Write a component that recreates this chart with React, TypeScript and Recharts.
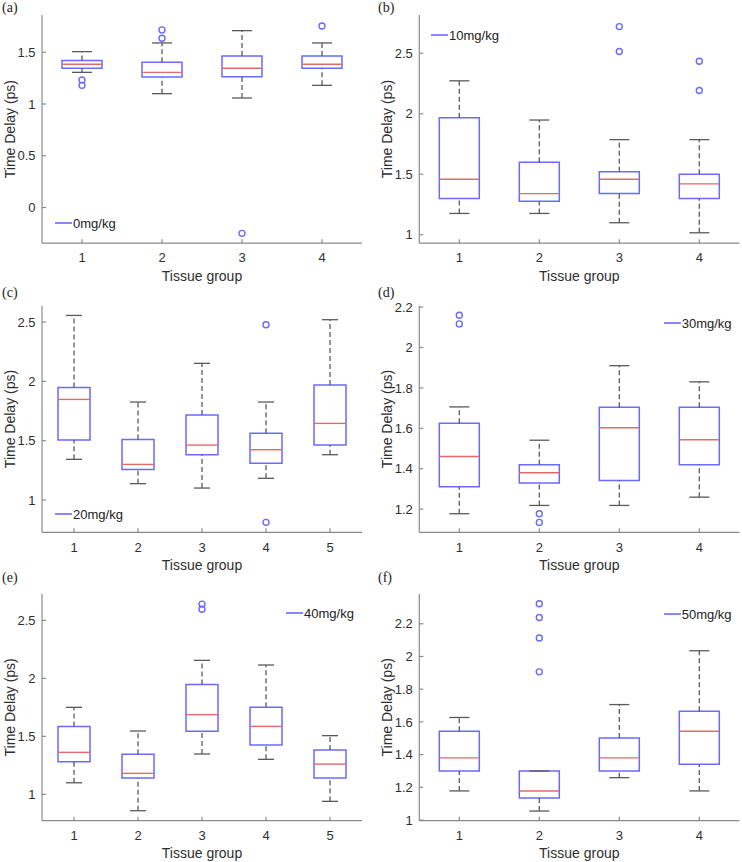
import React from 'react';
import {
  ComposedChart,
  XAxis,
  YAxis,
  ReferenceArea,
  ReferenceLine,
  Scatter,
  Legend,
} from 'recharts';

// ---------- data ----------
const groups4 = [1, 2, 3, 4];
const groups5 = [1, 2, 3, 4, 5];

// (a) 0mg/kg
const lowA = [1.306, 1.1, 1.058, 1.18];
const q1A = [1.345, 1.261, 1.264, 1.345];
const medA = [1.384, 1.306, 1.345, 1.384];
const q3A = [1.42, 1.403, 1.464, 1.464];
const highA = [1.506, 1.59, 1.709, 1.59];
const outA = [[1.232, 1.18], [1.716, 1.635], [-0.25], [1.754]];
const ticksA = [0, 0.5, 1, 1.5];

// (b) 10mg/kg
const lowB = [1.176, 1.176, 1.099, 1.016];
const q1B = [1.3, 1.277, 1.34, 1.3];
const medB = [1.459, 1.34, 1.459, 1.42];
const q3B = [1.967, 1.6, 1.52, 1.5];
const highB = [2.272, 1.948, 1.786, 1.786];
const outB = [[], [], [2.72, 2.514], [2.434, 2.192]];
const ticksB = [1, 1.5, 2, 2.5];

// (c) 20mg/kg
const lowC = [1.343, 1.138, 1.101, 1.183, 1.382];
const q1C = [1.506, 1.258, 1.382, 1.309, 1.463];
const medC = [1.848, 1.3, 1.463, 1.424, 1.646];
const q3C = [1.949, 1.511, 1.716, 1.562, 1.969];
const highC = [2.556, 1.826, 2.152, 1.826, 2.52];
const outC = [[], [], [], [2.478, 0.812], []];
const ticksC = [1, 1.5, 2, 2.5];

// (d) 30mg/kg
const lowD = [1.177, 1.218, 1.218, 1.259];
const q1D = [1.311, 1.329, 1.341, 1.42];
const medD = [1.46, 1.38, 1.603, 1.543];
const q3D = [1.625, 1.42, 1.704, 1.704];
const highD = [1.706, 1.541, 1.91, 1.83];
const outD = [[2.16, 2.117], [1.177, 1.134], [], []];
const ticksD = [1.2, 1.4, 1.6, 1.8, 2, 2.2];

// (e) 40mg/kg
const lowE = [1.1, 0.859, 1.348, 1.302, 0.94];
const q1E = [1.282, 1.141, 1.543, 1.425, 1.141];
const medE = [1.362, 1.181, 1.687, 1.586, 1.261];
const q3E = [1.586, 1.345, 1.948, 1.75, 1.382];
const highE = [1.75, 1.546, 2.155, 2.115, 1.506];
const outE = [[], [], [2.64, 2.595], [], []];
const ticksE = [1, 1.5, 2, 2.5];

// (f) 50mg/kg
const lowF = [1.178, 1.055, 1.259, 1.178];
const q1F = [1.3, 1.135, 1.3, 1.341];
const medF = [1.38, 1.178, 1.38, 1.543];
const q3F = [1.543, 1.3, 1.502, 1.665];
const highF = [1.627, 1.3, 1.706, 2.035];
const outF = [[], [2.322, 2.238, 2.113, 1.906], [], []];
const ticksF = [1, 1.2, 1.4, 1.6, 1.8, 2, 2.2];

const legendNames = ['0mg/kg', '10mg/kg', '20mg/kg', '30mg/kg', '40mg/kg', '50mg/kg'];
const xTitle = 'Tissue group';
const yTitle = 'Time Delay (ps)';

// ---------- styles ----------
const BLUE = '#6a6aff';
const RED = '#e36a6a';
const WHISK = '#5a5a5a';
const FRAME = '#8a8a8a';
const TEXT = '#2e2e2e';
const FONT = '"Liberation Sans", Arial, Helvetica, sans-serif';

type PanelProps = {
  left: number;
  top: number;
  width: number;
  height: number;
  margin: { top: number; right: number; bottom: number; left: number };
  groups: number[];
  low: number[];
  q1: number[];
  med: number[];
  q3: number[];
  high: number[];
  outliers: number[][];
  domain: [number, number];
  ticks: number[];
  legendName: string;
  legendLeft: number;
  legendTop: number;
  letter: string;
  letterLeft: number;
};

const OutlierShape = (props: any) => {
  const { cx, cy } = props;
  if (cx == null || cy == null) return null;
  return <circle cx={cx} cy={cy} r={3} fill="none" stroke={BLUE} strokeWidth={1.4} />;
};

function BoxPanel(p: PanelProps) {
  const n = p.groups.length;
  const xDomain: [number, number] = [0.5, n + 0.5];
  const pts = p.outliers.flatMap((vals, i) => vals.map((v) => ({ x: p.groups[i], y: v })));
  const bw = 0.25;
  const cw = 0.125;
  const tickStyle = { fill: TEXT, fontSize: 13, fontFamily: FONT };

  const whiskers: React.ReactNode[] = [];
  const boxes: React.ReactNode[] = [];
  p.groups.forEach((g, i) => {
    whiskers.push(
      <ReferenceLine
        key={`wu${i}`}
        segment={[{ x: g, y: p.q3[i] }, { x: g, y: p.high[i] }]}
        stroke={WHISK}
        strokeWidth={1.3}
        strokeDasharray="5 3"
        ifOverflow="visible"
      />,
      <ReferenceLine
        key={`wl${i}`}
        segment={[{ x: g, y: p.low[i] }, { x: g, y: p.q1[i] }]}
        stroke={WHISK}
        strokeWidth={1.3}
        strokeDasharray="5 3"
        ifOverflow="visible"
      />,
      <ReferenceLine
        key={`cu${i}`}
        segment={[{ x: g - cw, y: p.high[i] }, { x: g + cw, y: p.high[i] }]}
        stroke={WHISK}
        strokeWidth={1.3}
        ifOverflow="visible"
      />,
      <ReferenceLine
        key={`cl${i}`}
        segment={[{ x: g - cw, y: p.low[i] }, { x: g + cw, y: p.low[i] }]}
        stroke={WHISK}
        strokeWidth={1.3}
        ifOverflow="visible"
      />
    );
    boxes.push(
      <ReferenceArea
        key={`b${i}`}
        x1={g - bw}
        x2={g + bw}
        y1={p.q1[i]}
        y2={p.q3[i]}
        fill="#ffffff"
        fillOpacity={1}
        stroke={BLUE}
        strokeWidth={1.5}
        ifOverflow="visible"
      />,
      <ReferenceLine
        key={`m${i}`}
        segment={[{ x: g - bw, y: p.med[i] }, { x: g + bw, y: p.med[i] }]}
        stroke={RED}
        strokeWidth={1.4}
        ifOverflow="visible"
      />
    );
  });

  const legendContent = () => (
    <div
      style={{
        display: 'flex',
        alignItems: 'center',
        height: 16,
        fontFamily: FONT,
        fontSize: 13,
        color: '#222',
        whiteSpace: 'nowrap',
      }}
    >
      <svg width={18} height={16} style={{ display: 'block' }}>
        <line x1={0} y1={8} x2={17} y2={8} stroke={BLUE} strokeWidth={1.6} />
      </svg>
      <span>{p.legendName}</span>
    </div>
  );

  return (
    <div style={{ position: 'absolute', left: p.left, top: p.top, width: p.width, height: p.height }}>
      <ComposedChart width={p.width} height={p.height} margin={p.margin}>
        <XAxis
          type="number"
          dataKey="x"
          domain={xDomain}
          ticks={p.groups}
          allowDataOverflow
          height={30}
          tickSize={-4}
          tickMargin={14}
          tick={tickStyle}
          stroke={FRAME}
          strokeWidth={1.2}
          label={{
            content: (lp: any) => {
              const vb = lp.viewBox || {};
              return (
                <text
                  x={vb.x + vb.width / 2}
                  y={vb.y + 32.5}
                  textAnchor="middle"
                  dominantBaseline="central"
                  fill={TEXT}
                  fontSize={14}
                  fontFamily={FONT}
                >
                  {xTitle}
                </text>
              );
            },
          }}
        />
        <XAxis
          xAxisId="top"
          orientation="top"
          type="number"
          dataKey="x"
          domain={xDomain}
          ticks={p.groups}
          allowDataOverflow
          height={0}
          tickSize={-4}
          tick={false}
          stroke={FRAME}
          strokeWidth={1.2}
        />
        <YAxis
          type="number"
          domain={p.domain}
          ticks={p.ticks}
          allowDataOverflow
          width={30}
          tickSize={-4}
          tickMargin={10.5}
          tick={tickStyle}
          stroke={FRAME}
          strokeWidth={1.2}
          label={{
            content: (lp: any) => {
              const vb = lp.viewBox || {};
              const cx = vb.x + vb.width - 32;
              const cy = vb.y + vb.height / 2;
              return (
                <text
                  x={cx}
                  y={cy}
                  transform={`rotate(-90 ${cx} ${cy})`}
                  textAnchor="middle"
                  dominantBaseline="central"
                  fill={TEXT}
                  fontSize={14}
                  fontFamily={FONT}
                >
                  {yTitle}
                </text>
              );
            },
          }}
        />
        <YAxis
          yAxisId="right"
          orientation="right"
          type="number"
          domain={p.domain}
          ticks={p.ticks}
          allowDataOverflow
          width={0}
          tickSize={-4}
          tick={false}
          stroke={FRAME}
          strokeWidth={1.2}
        />
        {whiskers}
        {boxes}
        <Scatter
          data={pts}
          dataKey="y"
          isAnimationActive={false}
          shape={OutlierShape}
          legendType="line"
          name={p.legendName}
        />
        <Legend
          layout="vertical"
          align="center"
          verticalAlign="middle"
          wrapperStyle={{ left: p.legendLeft, top: p.legendTop, width: 'auto', height: 'auto' }}
          content={legendContent}
        />
      </ComposedChart>
      <div
        style={{
          position: 'absolute',
          left: p.letterLeft,
          top: 1,
          fontFamily: '"Liberation Serif", "Times New Roman", serif',
          fontSize: 14,
          lineHeight: '14px',
          color: '#222',
        }}
      >
        {p.letter}
      </div>
    </div>
  );
}

const LEFT_M = { left: 12, right: 9 };
const RIGHT_M = { left: 18.3, right: 2.7 };

export default function App() {
  return (
    <div style={{ position: 'absolute', left: 0, top: 0, width: 742, height: 862, background: '#fff' }}>
      <BoxPanel
        left={0}
        top={0}
        width={371}
        height={285}
        margin={{ top: 15, bottom: 11.8, ...LEFT_M }}
        groups={groups4}
        low={lowA}
        q1={q1A}
        med={medA}
        q3={q3A}
        high={highA}
        outliers={outA}
        domain={[-0.345, 1.86]}
        ticks={ticksA}
        legendName={legendNames[0]}
        legendLeft={55}
        legendTop={215.3}
        letter="(a)"
        letterLeft={2}
      />
      <BoxPanel
        left={371}
        top={0}
        width={371}
        height={285}
        margin={{ top: 15, bottom: 11.8, ...RIGHT_M }}
        groups={groups4}
        low={lowB}
        q1={q1B}
        med={medB}
        q3={q3B}
        high={highB}
        outliers={outB}
        domain={[0.93, 2.816]}
        ticks={ticksB}
        legendName={legendNames[1]}
        legendLeft={60}
        legendTop={27}
        letter="(b)"
        letterLeft={7}
      />
      <BoxPanel
        left={0}
        top={285}
        width={371}
        height={292}
        margin={{ top: 20.7, bottom: 14.7, ...LEFT_M }}
        groups={groups5}
        low={lowC}
        q1={q1C}
        med={medC}
        q3={q3C}
        high={highC}
        outliers={outC}
        domain={[0.728, 2.638]}
        ticks={ticksC}
        legendName={legendNames[2]}
        legendLeft={55}
        legendTop={221}
        letter="(c)"
        letterLeft={2}
      />
      <BoxPanel
        left={371}
        top={285}
        width={371}
        height={292}
        margin={{ top: 20.7, bottom: 14.7, ...RIGHT_M }}
        groups={groups4}
        low={lowD}
        q1={q1D}
        med={medD}
        q3={q3D}
        high={highD}
        outliers={outD}
        domain={[1.085, 2.207]}
        ticks={ticksD}
        legendName={legendNames[3]}
        legendLeft={292.7}
        legendTop={30.3}
        letter="(d)"
        letterLeft={7}
      />
      <BoxPanel
        left={0}
        top={570}
        width={371}
        height={292}
        margin={{ top: 24, bottom: 11.3, ...LEFT_M }}
        groups={groups5}
        low={lowE}
        q1={q1E}
        med={medE}
        q3={q3E}
        high={highE}
        outliers={outE}
        domain={[0.773, 2.727]}
        ticks={ticksE}
        legendName={legendNames[4]}
        legendLeft={286}
        legendTop={35.3}
        letter="(e)"
        letterLeft={2}
      />
      <BoxPanel
        left={371}
        top={570}
        width={371}
        height={292}
        margin={{ top: 24, bottom: 11.3, ...RIGHT_M }}
        groups={groups4}
        low={lowF}
        q1={q1F}
        med={medF}
        q3={q3F}
        high={highF}
        outliers={outF}
        domain={[0.996, 2.382]}
        ticks={ticksF}
        legendName={legendNames[5]}
        legendLeft={292.7}
        legendTop={36.3}
        letter="(f)"
        letterLeft={7}
      />
    </div>
  );
}
